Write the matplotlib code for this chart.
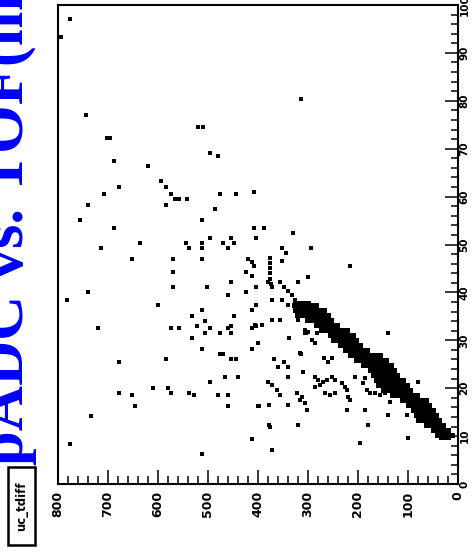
import matplotlib
matplotlib.use('Agg')
import matplotlib.pyplot as plt
from matplotlib.patches import Rectangle

# scattered entries (TOF, pADC)
tof_pts = [97.1, 93.3, 77.0, 72.2, 72.2, 67.4, 66.4, 74.5, 74.5, 69.1, 68.5, 80.4,
           63.3, 62.0, 62.0, 60.5, 60.5, 59.5, 59.5, 59.5, 60.5, 60.5, 61.0,
           58.2, 58.2, 57.4, 55.1, 55.1, 53.4, 53.4, 51.4, 51.4, 51.4,
           50.3, 50.3, 49.3, 50.3, 49.3, 50.3, 49.3, 50.3, 49.3,
           47.0, 47.0, 47.0, 47.0, 46.3, 45.5, 44.3, 44.3, 43.4, 42.2,
           41.1, 41.1, 41.1, 40.1, 40.1, 39.5, 38.4, 37.4, 37.4, 36.3,
           36.3, 35.1, 35.1, 34.0, 32.6, 32.6, 32.6, 33.0, 32.6, 31.5,
           32.6, 33.0, 32.6, 33.0, 30.5, 31.5, 31.5, 28.2, 28.2, 29.4,
           25.5, 26.1, 27.1, 27.1, 26.1, 26.1, 21.3, 22.3, 22.3,
           19.0, 18.6, 16.3, 20.0, 20.0, 19.0, 19.0, 18.6, 18.6, 18.6,
           16.3, 16.3, 14.2, 8.4, 9.4, 6.3,
           53.4, 52.4, 49.3, 48.2, 49.3, 46.6, 45.5,
           47.2, 46.1, 45.1, 44.1, 42.8, 41.8,
           43.2, 42.2, 42.2, 41.1, 40.3, 39.5, 38.4, 37.4,
           38.4, 37.4, 38.4, 34.2, 34.2, 33.2, 33.2, 34.2, 32.2, 31.5,
           42.2, 41.1,
           30.5, 27.3, 26.1, 24.4, 25.5, 24.4, 22.3, 23.4,
           21.3, 20.7, 19.6, 18.6,
           19.0, 17.5, 16.9, 15.4, 18.1,
           16.5, 16.5, 12.3, 12.3, 7.1, 8.6,
           30.1, 29.4, 31.5, 31.7, 26.3, 25.5, 26.3,
           22.3, 21.7, 20.3, 20.7, 21.3, 21.7, 22.3, 21.7, 19.0, 18.6, 19.0,
           21.1, 20.3, 19.6, 18.2, 17.5, 22.3, 21.1, 22.1, 19.6, 19.0, 19.0,
           18.6, 19.0, 17.1, 15.4, 15.4, 12.3, 14.4, 14.4, 9.6, 21.3,
           31.5, 31.5, 29.4, 27.1, 11.9, 16.3]
adc_pts = [776, 794, 744, 702, 696, 688, 620, 520, 510, 496, 480, 314,
           594, 584, 678, 708, 574, 566, 558, 542, 476, 444, 408,
           740, 584, 486, 756, 512, 688, 408, 496, 454, 404,
           636, 544, 538, 512, 512, 470, 460, 448, 714,
           652, 570, 512, 420, 412, 408, 570, 424, 412, 454,
           570, 502, 404, 740, 424, 460, 782, 600, 404, 412,
           512, 532, 448, 506, 720, 574, 558, 522, 496, 476,
           460, 454, 412, 404, 532, 506, 454, 512, 412, 400,
           678, 584, 476, 470, 454, 444, 496, 466, 440,
           678, 652, 646, 610, 580, 574, 538, 528, 480, 460,
           460, 400, 734, 776, 412, 512,
           388, 330, 352, 344, 294, 352, 216,
           376, 376, 376, 376, 376, 374,
           300, 320, 356, 348, 340, 332, 326, 320,
           372, 340, 352, 372, 356, 406, 392, 320, 306, 140,
           380, 372,
           338, 316, 368, 360, 348, 340, 340, 310,
           380, 372, 362, 356,
           322, 316, 306, 302, 312,
           378, 340, 320, 378, 372, 196,
           292, 286, 306, 300, 268, 260, 252,
           286, 280, 286, 276, 270, 262, 252, 246, 266, 256, 246,
           232, 226, 222, 220, 216, 206, 190, 186, 182, 176, 166,
           156, 146, 136, 222, 186, 180, 140, 102, 100, 80,
           304, 282, 286, 314, 376, 398]

# dense correlation band: TOF row and pADC range
band_tof = [9.2, 10.1, 11.1, 12.2, 13.2, 14.3, 15.3, 16.3, 17.4, 18.4, 19.5, 20.5, 21.6, 22.6, 23.7,
            24.7, 25.7, 26.8, 27.8, 28.9, 29.9, 31.0, 32.0, 33.0, 34.1, 35.1, 36.2, 37.2, 38.3]
band_lo = [14, 6, 14, 24, 32, 38, 44, 52, 58, 76, 90, 96, 104, 116, 122,
           128, 138, 150, 176, 190, 198, 204, 216, 236, 248, 254, 262, 278, 294]
band_hi = [38, 46, 54, 68, 84, 88, 94, 104, 116, 136, 154, 164, 168, 174, 180,
           194, 208, 220, 230, 240, 254, 260, 278, 288, 306, 326, 330, 332, 330]

title = 'pADC vs. TOF(mm)'
stat_name = 'uc_tdiff'

fig = plt.figure(figsize=(4.72, 5.54), dpi=100)
ax = fig.add_axes([58/472, 1 - 484/554, 400/472, 479/554])

ax.fill_betweenx(band_tof, band_lo, band_hi, step='mid', color='black', linewidth=0)
ax.plot(adc_pts, tof_pts, 's', color='black', markersize=3.5, markeredgewidth=0)

ax.set_xlim(800, 0)
ax.set_ylim(0, 100)
ax.set_xticks(range(0, 801, 100))
ax.set_xticks(range(0, 801, 20), minor=True)
ax.set_yticks(range(0, 101, 10))
ax.set_yticks(range(0, 101, 2), minor=True)
ax.yaxis.tick_right()

ax.tick_params(axis='x', which='major', direction='in', length=10, width=1.1, pad=5)
ax.tick_params(axis='x', which='minor', direction='in', length=6, width=1.1)
ax.tick_params(axis='y', which='major', direction='in', length=9.5, width=1.1, pad=1)
ax.tick_params(axis='y', which='minor', direction='in', length=5, width=1.1)
for lab in ax.get_xticklabels():
    lab.set_rotation(90)
    lab.set_fontsize(9)
    lab.set_fontweight('bold')
for lab in ax.get_yticklabels():
    lab.set_rotation(90)
    lab.set_fontsize(7.5)
    lab.set_fontweight('bold')
    lab.set_va('center')
for sp in ax.spines.values():
    sp.set_linewidth(1.5)

fig.text(23/472, (554 - 465)/554, title, rotation=90, rotation_mode='anchor',
         ha='left', va='baseline', fontsize=45, family='Liberation Serif',
         fontweight='bold', color='#0000ff')

fig.patches.append(Rectangle((8/472, (554 - 545)/554), 27/472, 78/554,
                             transform=fig.transFigure, fill=False,
                             edgecolor='black', linewidth=1.8))
fig.text(21.5/472, (554 - 506)/554, stat_name, rotation=90, ha='center', va='center',
         fontsize=8.5, fontweight='bold')

fig.savefig('out.png', dpi=100)
